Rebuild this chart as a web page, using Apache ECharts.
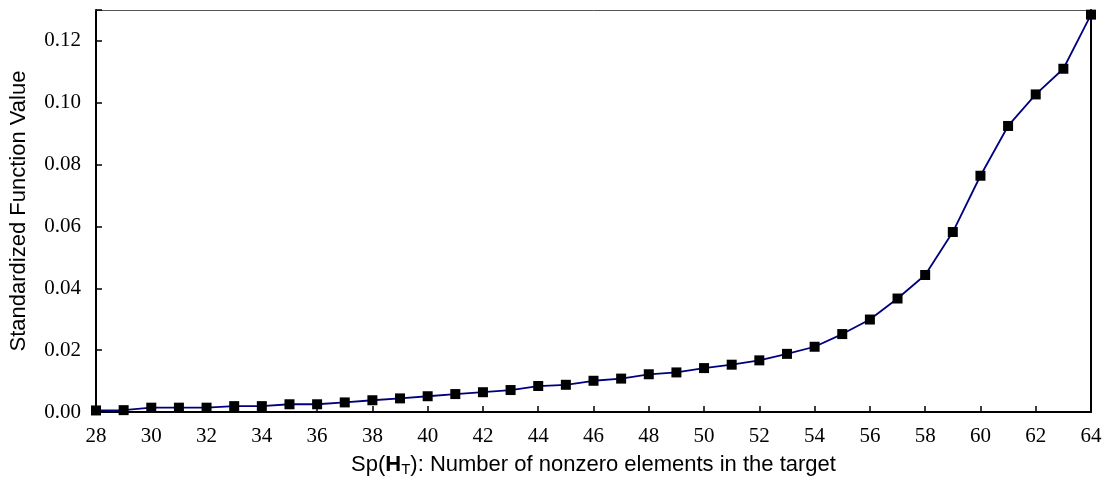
<!DOCTYPE html>
<html>
<head>
<meta charset="utf-8">
<script src="https://cdn.jsdelivr.net/npm/echarts@6/dist/echarts.min.js"></script>
<style>
  html, body { margin: 0; padding: 0; background: #fff; }
  #main { width: 1109px; height: 478px; }
</style>
</head>
<body>
<div id="main"></div>
<script>
  // nonzero elements in the target
  var sparsity = [28, 29, 30, 31, 32, 33, 34, 35, 36, 37, 38, 39, 40, 41, 42, 43, 44, 45,
                  46, 47, 48, 49, 50, 51, 52, 53, 54, 55, 56, 57, 58, 59, 60, 61, 62, 63, 64];
  // standardized function value
  var funcValue = [0.0005, 0.0006, 0.0014, 0.0014, 0.0014, 0.0019, 0.0019, 0.0025, 0.0025,
                   0.0031, 0.0038, 0.0044, 0.0051, 0.0058, 0.0064, 0.0071, 0.0084, 0.0088,
                   0.0101, 0.0108, 0.0122, 0.0128, 0.0142, 0.0153, 0.0167, 0.0188, 0.0211,
                   0.0252, 0.0299, 0.0367, 0.0443, 0.0582, 0.0764, 0.0925, 0.1027, 0.111, 0.1285];

  var pts = sparsity.map(function (x, i) { return [x, funcValue[i]]; });

  var serif = 'Liberation Serif';
  var sans = 'Liberation Sans';

  var myChart = echarts.init(document.getElementById('main'));
  myChart.setOption({
    animation: false,
    grid: { left: 96, right: 18, top: 10, bottom: 66, show: false, outerBoundsMode: 'none', containLabel: false },
    xAxis: [
      {
        type: 'value',
        min: 28, max: 64, interval: 2,
        name: 'Sp({b|H}{s|T}): Number of nonzero elements in the target',
        nameLocation: 'middle',
        nameGap: 41,
        nameTextStyle: {
          fontFamily: sans, fontSize: 22, color: '#000',
          rich: {
            b: { fontFamily: sans, fontSize: 22, fontWeight: 'bold', color: '#000' },
            s: { fontFamily: sans, fontSize: 15, color: '#000', verticalAlign: 'bottom', padding: [9, 0, 0, 0] }
          }
        },
        axisLine: { show: true, onZero: false, lineStyle: { color: '#000', width: 2 } },
        axisTick: { show: true, inside: true, length: 6, lineStyle: { color: '#000', width: 1.5 } },
        axisLabel: { fontFamily: serif, fontSize: 21, color: '#000', margin: 14 },
        splitLine: { show: false }
      },
      {
        type: 'value', position: 'top',
        min: 28, max: 64,
        axisLine: { show: true, onZero: false, lineStyle: { color: '#555', width: 1 } },
        axisTick: { show: false }, axisLabel: { show: false }, splitLine: { show: false }
      }
    ],
    yAxis: [
      {
        type: 'value',
        min: 0, max: 0.13, interval: 0.02,
        name: 'Standardized Function Value',
        nameLocation: 'middle',
        nameGap: 66,
        nameTextStyle: { fontFamily: sans, fontSize: 22, color: '#000' },
        axisLine: { show: true, onZero: false, lineStyle: { color: '#000', width: 2 } },
        axisTick: { show: true, inside: true, length: 6, lineStyle: { color: '#000', width: 1.5 } },
        axisLabel: {
          fontFamily: serif, fontSize: 21, color: '#000', margin: 15,
          formatter: function (v) {
            var k = v / 0.02;
            return Math.abs(k - Math.round(k)) < 1e-6 ? v.toFixed(2) : '';
          }
        },
        splitLine: { show: false }
      },
      {
        type: 'value', position: 'right',
        min: 0, max: 0.13,
        axisLine: { show: true, onZero: false, lineStyle: { color: '#000', width: 2 } },
        axisTick: { show: false }, axisLabel: { show: false }, splitLine: { show: false }
      }
    ],
    series: [
      {
        type: 'line',
        data: pts,
        symbol: 'rect',
        symbolSize: 10,
        itemStyle: { color: '#000' },
        lineStyle: { color: '#00007f', width: 1.8 },
        clip: false
      }
    ]
  });
</script>
</body>
</html>
